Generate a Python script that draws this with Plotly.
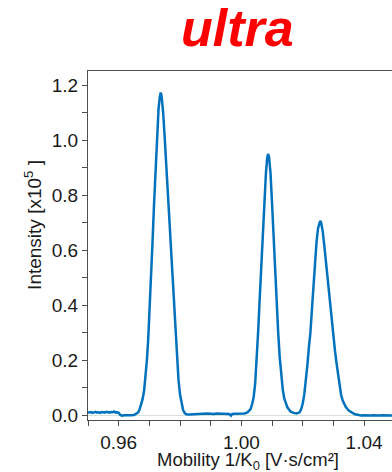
import plotly.graph_objects as go

# Ion mobility trace: inverse reduced mobility (V·s/cm²) vs. intensity (x10^5)
mobility = [
    0.9500, 0.9505, 0.9510, 0.9515, 0.9520, 0.9525, 0.9530, 0.9535, 0.9540, 0.9545,
    0.9550, 0.9555, 0.9560, 0.9565, 0.9570, 0.9575, 0.9580, 0.9585, 0.9590, 0.9595,
    0.9600, 0.9605, 0.9610, 0.9620, 0.9630, 0.9640, 0.9650, 0.9658,
    0.9663, 0.9668, 0.9673, 0.9678, 0.9683, 0.9688, 0.9692, 0.9696, 0.9700, 0.9705,
    0.9710, 0.9715, 0.9720, 0.9725, 0.9730, 0.9734, 0.9737, 0.9740, 0.9745, 0.9750,
    0.9755, 0.9760, 0.9765, 0.9770, 0.9775, 0.9780, 0.9785, 0.9790, 0.9795, 0.9800,
    0.9805, 0.9810, 0.9815, 0.9820, 0.9830, 0.9840, 0.9850, 0.9860, 0.9870, 0.9880,
    0.9890, 0.9900, 0.9910, 0.9920, 0.9930, 0.9940, 0.9950, 0.9960, 0.9966, 0.9970,
    0.9980, 0.9990, 1.0000, 1.0010, 1.0020, 1.0030, 1.0035, 1.0040, 1.0045, 1.0050,
    1.0055, 1.0060, 1.0065, 1.0070, 1.0075, 1.0080, 1.0084, 1.0087, 1.0090, 1.0095,
    1.0100, 1.0105, 1.0110, 1.0115, 1.0120, 1.0125, 1.0130, 1.0135, 1.0140, 1.0145,
    1.0150, 1.0160, 1.0170, 1.0180, 1.0190, 1.0195, 1.0200, 1.0205, 1.0210, 1.0215,
    1.0220, 1.0225, 1.0230, 1.0235, 1.0240, 1.0245, 1.0250, 1.0254, 1.0257, 1.0260,
    1.0265, 1.0270, 1.0275, 1.0280, 1.0285, 1.0290, 1.0295, 1.0300, 1.0305, 1.0310,
    1.0315, 1.0320, 1.0325, 1.0330, 1.0335, 1.0340, 1.0350, 1.0360, 1.0370, 1.0380,
    1.0390, 1.0400, 1.0410, 1.0420, 1.0430, 1.0440, 1.0450, 1.0460, 1.0470, 1.0480,
    1.0491,
]
intensity = [
    0.010, 0.009, 0.011, 0.008, 0.010, 0.012, 0.009, 0.010, 0.008, 0.011,
    0.010, 0.009, 0.012, 0.010, 0.009, 0.011, 0.010, 0.013, 0.009, 0.010,
    0.008, 0.001, -0.002, -0.001, -0.002, -0.001, 0.000, 0.004,
    0.009, 0.020, 0.036, 0.058, 0.090, 0.140, 0.200, 0.270, 0.360, 0.480,
    0.620, 0.760, 0.900, 1.030, 1.115, 1.158, 1.174, 1.160, 1.100, 1.010,
    0.910, 0.825, 0.730, 0.620, 0.515, 0.410, 0.305, 0.205, 0.128, 0.075,
    0.040, 0.018, 0.008, 0.003, 0.002, 0.003, 0.004, 0.004, 0.006, 0.005,
    0.006, 0.005, 0.004, 0.006, 0.005, 0.004, 0.005, 0.004, -0.002, 0.004,
    0.005, 0.005, 0.006, 0.006, 0.010, 0.022, 0.040, 0.065, 0.115, 0.200,
    0.310, 0.430, 0.550, 0.670, 0.780, 0.880, 0.935, 0.950, 0.940, 0.880,
    0.770, 0.640, 0.510, 0.400, 0.300, 0.210, 0.145, 0.092, 0.060, 0.040,
    0.028, 0.013, 0.008, 0.006, 0.010, 0.022, 0.042, 0.075, 0.120, 0.180,
    0.245, 0.300, 0.385, 0.480, 0.565, 0.630, 0.680, 0.700, 0.707, 0.700,
    0.670, 0.620, 0.565, 0.505, 0.440, 0.380, 0.330, 0.285, 0.235, 0.190,
    0.145, 0.100, 0.074, 0.054, 0.040, 0.030, 0.016, 0.008, 0.003, 0.001,
    -0.002, -0.001, -0.002, -0.002, -0.001, -0.002, -0.002, -0.001, -0.002, -0.002,
    -0.002,
]

x_major_ticks = [0.96, 1.00, 1.04]
x_tick_labels = ["0.96", "1.00", "1.04"]

FONT = "Liberation Sans, Arial, sans-serif"
AXIS_COLOR = "#4d4d4d"

fig = go.Figure()
fig.add_trace(go.Scatter(
    x=mobility, y=intensity, mode="lines",
    line=dict(color="#0072BD", width=2.5),
    hoverinfo="skip", showlegend=False,
))

fig.update_layout(
    width=392, height=472,
    margin=dict(l=88, r=0, t=71, b=52),
    paper_bgcolor="white", plot_bgcolor="white",
    font=dict(family=FONT, size=19, color="#1a1a1a"),
    xaxis=dict(
        range=[0.95, 1.0491],
        tickmode="array", tickvals=x_major_ticks, ticktext=x_tick_labels,
        ticks="outside", ticklen=5, tickwidth=1, tickcolor=AXIS_COLOR,
        minor=dict(tickmode="linear", tick0=0.96, dtick=0.01, ticks="outside",
                   ticklen=5, tickcolor=AXIS_COLOR),
        showline=True, linecolor=AXIS_COLOR, linewidth=1, mirror=True,
        showgrid=False, zeroline=False,
        tickfont=dict(size=19),
    ),
    yaxis=dict(
        range=[-0.018, 1.252],
        tick0=0, dtick=0.2, tickformat=".1f",
        ticks="outside", ticklen=5, tickwidth=1, tickcolor=AXIS_COLOR,
        minor=dict(tick0=0, dtick=0.1, ticks="outside", ticklen=5,
                   tickcolor=AXIS_COLOR),
        showline=True, linecolor=AXIS_COLOR, linewidth=1,
        showgrid=False,
        zeroline=True, zerolinecolor="#d6e2d6", zerolinewidth=1,
        tickfont=dict(size=19),
    ),
    annotations=[
        dict(text="<b><i>ultra</i></b>", xref="paper", yref="paper",
             x=0.4918, y=1.124, xanchor="center", yanchor="middle",
             showarrow=False, font=dict(family=FONT, size=52, color="#ff0000")),
        dict(text="Intensity [x10<sup>5</sup> ]", xref="paper", yref="paper",
             x=-0.181, y=0.559, xanchor="center", yanchor="middle",
             textangle=-90, showarrow=False, font=dict(size=19)),
        dict(text="Mobility 1/K<sub>0</sub> [V·s/cm²]", xref="paper", yref="paper",
             x=0.526, y=-0.117, xanchor="center", yanchor="middle",
             showarrow=False, font=dict(size=18.5)),
    ],
)

fig.write_html("out.html")
